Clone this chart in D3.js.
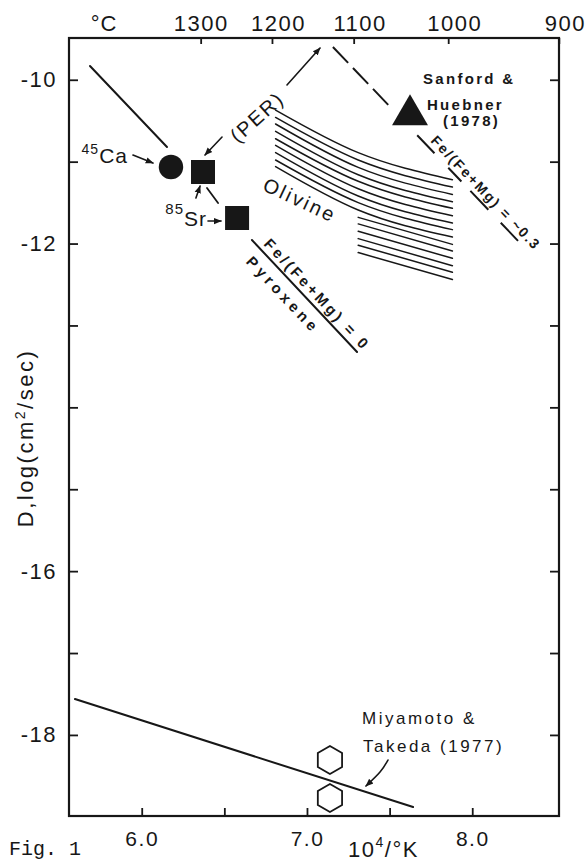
<!DOCTYPE html>
<html>
<head>
<meta charset="utf-8">
<script src="https://cdn.jsdelivr.net/npm/d3@7"></script>
<style>
  html, body { margin: 0; padding: 0; background: #fff; }
  svg { display: block; }
  text { font-family: "Liberation Sans", Arial, sans-serif; fill: #171717; }
</style>
</head>
<body>
<svg id="chart" width="588" height="862"></svg>
<script>
// ---------------- data ----------------
// bottom axis: 10^4 / K
const xTicks = [6.0, 6.5, 7.0, 7.5, 8.0];
const xTickLabels = ["6.0", "", "7.0", "", "8.0"];
// left / right axis: log D (cm^2/sec)
const yTicks = [-10, -11, -12, -13, -14, -15, -16, -17, -18];
const yTickLabels = ["-10", "", "-12", "", "", "", "-16", "", "-18"];
// top axis: temperature in °C
const tempTicks = [1300, 1200, 1100, 1000, 900];

// measured points [10^4/K, log D]
const ca45 = [6.177, -11.065];
const sr85 = [[6.371, -11.126], [6.577, -11.688]];
const sanfordHuebner = [7.6235, -10.43];
const miyamotoTakeda = [[7.139, -18.307], [7.139, -18.771]];

// trend lines
const caTrend = [[5.687, -9.832], [6.153, -10.821]];
const pyroxeneFe0 = [[6.667, -11.957], [7.303, -13.324]];
const olivineFe03Dashed = [[7.157, -9.600], [7.500, -10.324]];
const olivineFe03Under = [[7.667, -10.677], [8.281, -11.975]];
const miyamotoTrend = [[5.596, -17.562], [7.642, -18.881]];

// olivine field: log D at three values of 10^4/K
const olivineX = [6.81, 7.31, 7.88];
const olivineUpper = [
  [-10.37, -10.89, -11.22],
  [-10.46, -10.98, -11.31],
  [-10.54, -11.07, -11.40],
  [-10.63, -11.16, -11.49],
  [-10.72, -11.24, -11.57],
  [-10.80, -11.33, -11.66],
  [-10.89, -11.42, -11.75],
  [-10.98, -11.50, -11.83],
  [-11.06, -11.59, -11.92]
];
// lower olivine lines start at olivineX[1]
const olivineLower = [
  [-11.68, -12.01],
  [-11.76, -12.09],
  [-11.85, -12.18],
  [-11.94, -12.27],
  [-12.02, -12.35],
  [-12.11, -12.44]
];

// annotation arrows
const caArrow = [[5.947, -10.919], [6.068, -11.017]];
const perArrowUp = [[6.879, -10.064], [7.079, -9.612]];
const perArrowDown = [[6.486, -10.699], [6.383, -10.919]];
const srArrowRight = [[6.401, -11.725], [6.480, -11.725]];
const srArrowUp = [[6.328, -11.444], [6.353, -11.297]];
const srLink = [[6.395, -11.322], [6.462, -11.505]];
const miyamotoArrow = [[7.490, -18.307], [7.442, -18.454], [7.357, -18.624]];

// ---------------- drawing ----------------
const ink = "#171717";
const svg = d3.select("#chart");

const x = d3.scaleLinear().domain([5.56, 8.525]).range([69, 559]);
const y = d3.scaleLinear().domain([-9.49, -18.99]).range([38, 816]);
const invK = t => 1e4 / (t + 273.15);

const defs = svg.append("defs");
defs.append("marker")
  .attr("id", "head")
  .attr("viewBox", "0 -5 10 10")
  .attr("refX", 9).attr("refY", 0)
  .attr("markerWidth", 8).attr("markerHeight", 8)
  .attr("markerUnits", "userSpaceOnUse")
  .attr("orient", "auto")
  .append("path").attr("d", "M0,-4L10,0L0,4Z").attr("fill", ink);

// frame
svg.append("rect")
  .attr("x", x.range()[0]).attr("y", y.range()[0])
  .attr("width", x.range()[1] - x.range()[0])
  .attr("height", y.range()[1] - y.range()[0])
  .attr("fill", "none").attr("stroke", ink).attr("stroke-width", 2.2);

function styleAxis(g, size) {
  g.select(".domain").remove();
  g.selectAll(".tick line").attr("stroke", ink).attr("stroke-width", 1.8);
  g.selectAll(".tick text")
    .attr("fill", ink)
    .style("font-family", '"Liberation Sans", Arial, sans-serif')
    .style("font-size", size + "px")
    .style("letter-spacing", "1.5px");
}

// bottom axis
svg.append("g")
  .attr("transform", `translate(0,${y.range()[1]})`)
  .call(d3.axisBottom(x).tickValues(xTicks).tickSize(-8).tickPadding(15)
    .tickFormat((d, i) => xTickLabels[i]))
  .call(g => styleAxis(g, 21));

// top axis (°C)
const topAxis = svg.append("g")
  .attr("transform", `translate(0,${y.range()[0]})`)
  .call(d3.axisTop(x).tickValues(tempTicks.map(invK)).tickSize(-6).tickPadding(7)
    .tickFormat((d, i) => tempTicks[i]))
  .call(g => styleAxis(g, 22));
topAxis.selectAll(".tick text").attr("dx", (d, i) => i === 0 ? 0 : 6);
topAxis.append("text")
  .attr("x", x(5.772)).attr("y", -7)
  .attr("text-anchor", "middle")
  .style("font-size", "22px").style("letter-spacing", "1px")
  .text("°C");

// left axis
svg.append("g")
  .attr("transform", `translate(${x.range()[0]},0)`)
  .call(d3.axisLeft(y).tickValues(yTicks).tickSize(-9).tickPadding(12)
    .tickFormat((d, i) => yTickLabels[i]))
  .call(g => styleAxis(g, 22));

// right axis (ticks only)
svg.append("g")
  .attr("transform", `translate(${x.range()[1]},0)`)
  .call(d3.axisRight(y).tickValues(yTicks).tickSize(-9).tickFormat(""))
  .call(g => styleAxis(g, 10));

// axis titles
svg.append("text")
  .attr("transform", `translate(33,438) rotate(-90)`)
  .attr("text-anchor", "middle")
  .style("font-size", "22px").style("letter-spacing", "2.5px")
  .call(t => {
    t.append("tspan").text("D,log(cm");
    t.append("tspan").attr("dy", -8).style("font-size", "14px").text("2");
    t.append("tspan").attr("dy", 8).text("/sec)");
  });

svg.append("text")
  .attr("x", 348).attr("y", 857)
  .style("font-size", "22px").style("letter-spacing", "1.5px")
  .call(t => {
    t.append("tspan").text("10");
    t.append("tspan").attr("dy", -10).style("font-size", "14px").text("4");
    t.append("tspan").attr("dy", 10).text("/°K");
  });

svg.append("text")
  .attr("x", 9).attr("y", 855)
  .style("font-family", '"Liberation Mono", monospace')
  .style("font-size", "20px")
  .text("Fig. 1");

// line helpers
const line = d3.line().x(d => x(d[0])).y(d => y(d[1]));
const plot = svg.append("g");

function drawLine(data, opts = {}) {
  const p = plot.append("path")
    .attr("d", (opts.curve ? line.curve(opts.curve) : line.curve(d3.curveLinear))(data))
    .attr("fill", "none").attr("stroke", ink)
    .attr("stroke-width", opts.width || 2)
    .attr("stroke-linecap", "round");
  line.curve(d3.curveLinear);
  if (opts.dash) p.attr("stroke-dasharray", opts.dash).attr("stroke-linecap", "butt");
  if (opts.arrow) p.attr("marker-end", "url(#head)");
  return p;
}

// olivine field hatching
olivineUpper.forEach(v => drawLine(olivineX.map((xv, i) => [xv, v[i]]),
  { width: 1.5, curve: d3.curveMonotoneX }));
olivineLower.forEach(v => drawLine(olivineX.slice(1).map((xv, i) => [xv, v[i]]),
  { width: 1.5 }));

// trend lines
drawLine(caTrend, { width: 2 });
drawLine(pyroxeneFe0, { width: 2 });
drawLine(olivineFe03Dashed, { width: 2, dash: "22,7" });
drawLine(olivineFe03Under, { width: 2, dash: "25,20,19,13,26,18,25,60" });
drawLine(miyamotoTrend, { width: 2 });
drawLine(srLink, { width: 1.8 });

// arrows
[caArrow, perArrowUp, perArrowDown, srArrowRight, srArrowUp]
  .forEach(a => drawLine(a, { width: 1.6, arrow: true }));
drawLine(miyamotoArrow, { width: 1.6, arrow: true, curve: d3.curveNatural });

// symbols
plot.append("path")
  .attr("transform", `translate(${x(ca45[0])},${y(ca45[1])})`)
  .attr("d", d3.symbol(d3.symbolCircle, 470)())
  .attr("fill", ink);

plot.selectAll("path.sq").data(sr85).join("path")
  .attr("class", "sq")
  .attr("transform", d => `translate(${x(d[0])},${y(d[1])})`)
  .attr("d", d3.symbol(d3.symbolSquare, 576)())
  .attr("fill", ink);

plot.append("path")
  .attr("transform", `translate(${x(sanfordHuebner[0])},${y(sanfordHuebner[1])})`)
  .attr("d", d3.symbol(d3.symbolTriangle, 560)())
  .attr("fill", ink);

const hexR = 14;
const hexPts = d3.range(6).map(k => {
  const a = Math.PI / 2 + k * Math.PI / 3;
  return [hexR * Math.cos(a), hexR * Math.sin(a)];
});
plot.selectAll("path.hex").data(miyamotoTakeda).join("path")
  .attr("class", "hex")
  .attr("transform", d => `translate(${x(d[0])},${y(d[1])})`)
  .attr("d", "M" + hexPts.map(p => p.join(",")).join("L") + "Z")
  .attr("fill", "none").attr("stroke", ink).attr("stroke-width", 1.8);

// ---------------- labels ----------------
const lab = svg.append("g");

function textAt(px, py, size, opts = {}) {
  const t = lab.append("text")
    .attr("x", px).attr("y", py)
    .attr("text-anchor", opts.anchor || "start")
    .style("font-size", size + "px")
    .style("letter-spacing", (opts.ls == null ? 1 : opts.ls) + "px");
  if (opts.rotate) t.attr("transform", `rotate(${opts.rotate},${px},${py})`);
  return t;
}

// 45Ca
textAt(x(5.917), y(-11.016), 21, { anchor: "end", ls: 1 }).call(t => {
  t.append("tspan").attr("dy", -9).style("font-size", "14px").text("45");
  t.append("tspan").attr("dy", 9).text("Ca");
});
// 85Sr
textAt(x(6.395), y(-11.786), 21, { anchor: "end", ls: 1 }).call(t => {
  t.append("tspan").attr("dy", -12).style("font-size", "15px").text("85");
  t.append("tspan").attr("dy", 12).text("Sr");
});
// (PER)
textAt(x(6.698), y(-10.455), 20, { anchor: "middle", rotate: -42, ls: 2 })
  .attr("dy", "0.35em").text("(PER)");
// Olivine
textAt(x(6.958), y(-11.468), 20, { anchor: "middle", rotate: 25, ls: 2.5 })
  .attr("dy", "0.35em").text("Olivine");

// Sanford & Huebner (1978)
const shX = x(7.702);
const sh = textAt(shX, y(-10.05), 15, { ls: 2.3 }).style("font-weight", "bold");
sh.append("tspan").text("Sanford &");
sh.append("tspan").attr("x", shX + 4).attr("dy", 26).text("Huebner");
sh.append("tspan").attr("x", shX + 20).attr("dy", 16).text("(1978)");

// Miyamoto & Takeda (1977)
const mt = textAt(x(7.333), y(-17.867), 17, { ls: 2.5 });
mt.append("tspan").text("Miyamoto &");
mt.append("tspan").attr("x", x(7.333) + 1).attr("dy", 28).text("Takeda (1977)");

// labels laid along a line
function alongLine(p0, p1, t, dy, size, ls, txt, weight) {
  const a = [x(p0[0]), y(p0[1])], b = [x(p1[0]), y(p1[1])];
  const ang = Math.atan2(b[1] - a[1], b[0] - a[0]) * 180 / Math.PI;
  const px = a[0] + t * (b[0] - a[0]), py = a[1] + t * (b[1] - a[1]);
  lab.append("text")
    .attr("transform", `translate(${px},${py}) rotate(${ang})`)
    .attr("y", dy)
    .attr("text-anchor", "middle")
    .style("font-size", size + "px")
    .style("letter-spacing", ls + "px")
    .style("font-weight", weight || "normal")
    .text(txt);
}
alongLine(pyroxeneFe0[0], pyroxeneFe0[1], 0.55, -5, 15, 3, "Fe/(Fe+Mg) = 0", "bold");
alongLine(pyroxeneFe0[0], pyroxeneFe0[1], 0.40, 20, 15, 4, "Pyroxene", "bold");
alongLine(olivineFe03Dashed[0], olivineFe03Under[1], 0.785, -5, 14, 2, "Fe/(Fe+Mg) = ~0.3", "bold");
</script>
</body>
</html>
